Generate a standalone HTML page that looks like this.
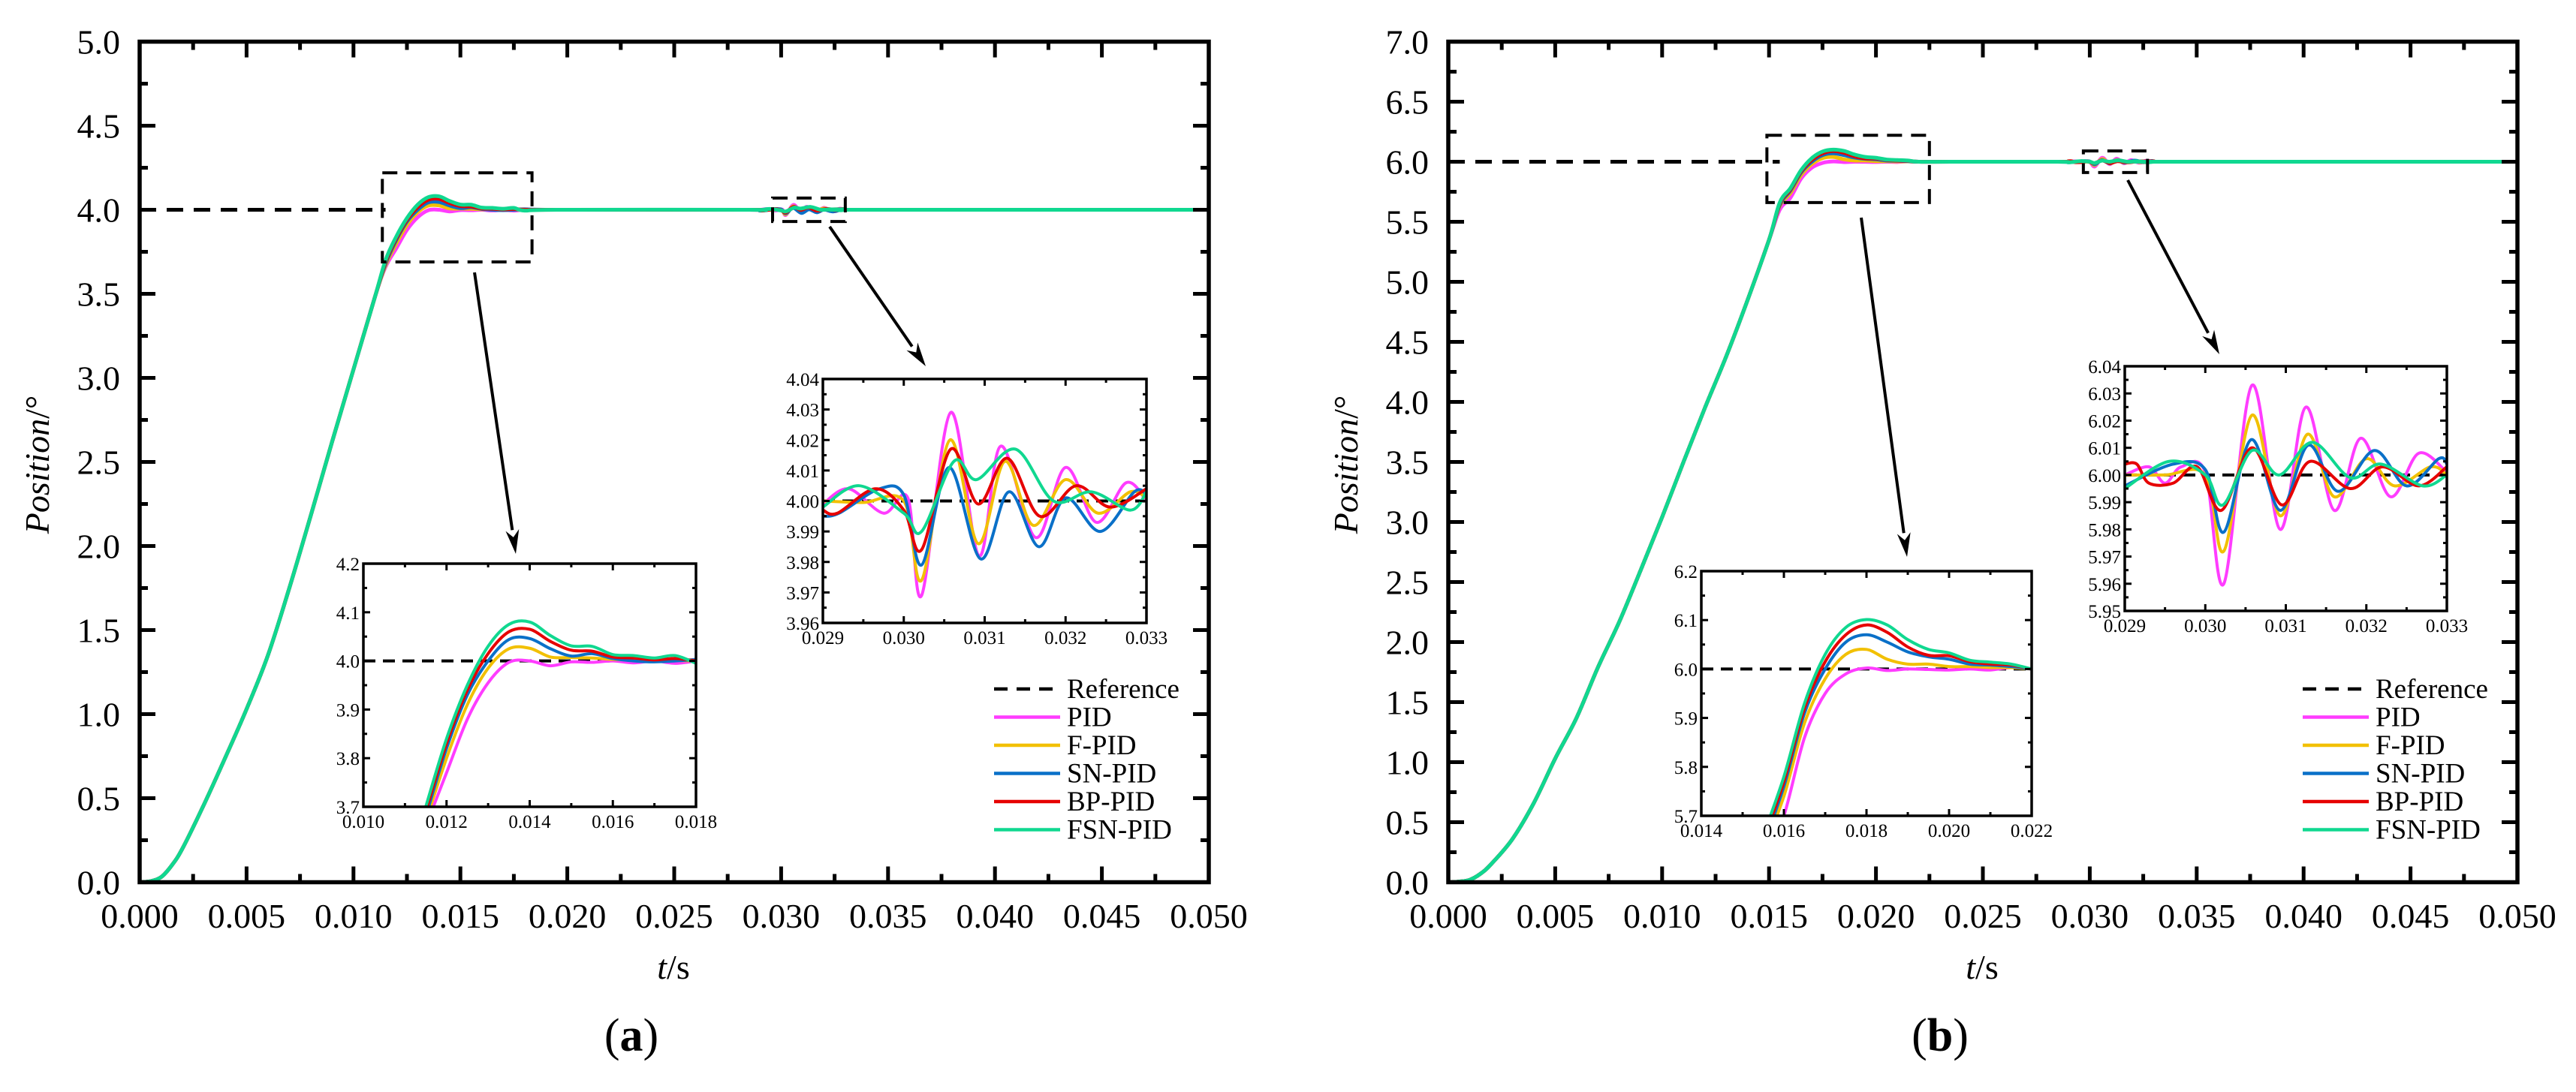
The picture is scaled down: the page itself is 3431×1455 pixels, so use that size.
<!DOCTYPE html>
<html><head><meta charset="utf-8"><title>Position response comparison</title>
<style>
html,body{margin:0;padding:0;background:#fff;}
svg{display:block;font-family:"Liberation Serif",serif;}
</style></head>
<body>
<svg id="fig" xmlns="http://www.w3.org/2000/svg" width="3431" height="1455" viewBox="0 0 3431 1455">
<rect x="0" y="0" width="3431" height="1455" fill="#fff"/>
</svg>
<script>
// ---------- DATA ----------
const seriesNames = ["PID","F-PID","SN-PID","BP-PID","FSN-PID"];
const seriesColors = ["#ff3cff","#f2c000","#0a70c8","#e60000","#10d890"];

// Panel (a) ramp (shared by all controllers)
const rampA_t = [0,0.0005,0.001,0.0015,0.002,0.003,0.004,0.005,0.006,0.007,0.008,0.009,0.010,0.011];
const rampA_v = [0,0.006,0.03,0.1,0.2,0.46,0.74,1.03,1.35,1.75,2.18,2.62,3.05,3.48];
// Panel (a) overshoot region (zoom 1)
const zA_t = [0.0115,0.012,0.0125,0.013,0.0135,0.014,0.0145,0.015,0.0155,0.016,0.0165,0.017,0.0175,0.018];
const zA_pid = [3.66,3.77,3.88,3.955,3.997,4.0,3.99,3.998,3.997,4.0,3.996,4.0,3.995,4.0];
const zA_fpid = [3.67,3.80,3.91,3.985,4.025,4.026,4.008,4.007,4.006,4.003,4.002,4.002,4.001,4.0];
const zA_snpid = [3.68,3.82,3.93,4.0,4.044,4.046,4.025,4.01,4.015,4.005,4.0,3.998,4.0,4.003];
const zA_bppid = [3.69,3.83,3.94,4.015,4.06,4.065,4.04,4.022,4.02,4.008,4.006,4.002,4.005,4.0];
const zA_fsnpid = [3.70,3.84,3.95,4.03,4.075,4.08,4.052,4.031,4.03,4.013,4.011,4.006,4.011,3.995];
// Panel (a) disturbance region (zoom 2)
const dA_pid_t = [0.029,0.02932,0.02975,0.03005,0.03022,0.03058,0.03093,0.0312,0.03163,0.032,0.03238,0.03275,0.033];
const dA_pid_v = [3.999,4.004,3.996,4.001,3.969,4.029,3.982,4.018,3.988,4.011,3.993,4.006,4.0];
const dA_fpid_t = [0.029,0.0295,0.030,0.03022,0.03057,0.03092,0.03125,0.0316,0.032,0.0324,0.0328,0.033];
const dA_fpid_v = [4.0,3.9995,4.0,3.974,4.020,3.986,4.013,3.992,4.007,3.996,4.003,4.001];
const dA_snpid_t = [0.029,0.0292,0.0297,0.030,0.03022,0.03056,0.03095,0.0313,0.03167,0.032,0.03243,0.03285,0.033];
const dA_snpid_v = [3.995,3.996,4.004,4.002,3.979,4.011,3.981,4.003,3.985,4.001,3.990,4.003,4.002];
const dA_bppid_t = [0.029,0.02918,0.02965,0.030,0.03022,0.03058,0.03092,0.03128,0.03168,0.03213,0.03255,0.033];
const dA_bppid_v = [3.997,3.996,4.004,3.997,3.984,4.017,3.999,4.014,3.995,4.005,3.998,4.004];
const dA_fsnpid_t = [0.029,0.02945,0.030,0.03022,0.03062,0.0309,0.03138,0.03185,0.03232,0.0328,0.033];
const dA_fsnpid_v = [3.998,4.005,3.996,3.990,4.013,4.007,4.017,4.000,4.003,3.997,4.003];

// Panel (b) ramp
const rampB_t = [0,0.0005,0.001,0.0015,0.002,0.003,0.004,0.005,0.006,0.007,0.008,0.009,0.010,0.011,0.012,0.013,0.014,0.015];
const rampB_v = [0,0.005,0.02,0.07,0.15,0.36,0.66,1.03,1.37,1.79,2.17,2.6,3.04,3.5,3.95,4.38,4.85,5.35];
// Panel (b) overshoot region
const zB_t = [0.0155,0.016,0.0165,0.017,0.0175,0.018,0.0185,0.019,0.0195,0.020,0.0205,0.021,0.0215,0.022];
const zB_pid = [5.60,5.70,5.86,5.95,5.99,6.002,5.997,6.0,5.999,5.998,6.0,5.998,6.003,6.0];
const zB_fpid = [5.63,5.74,5.89,5.98,6.03,6.04,6.02,6.01,6.01,6.005,6.005,6.003,6.003,6.0];
const zB_snpid = [5.64,5.76,5.91,6.0,6.055,6.07,6.055,6.035,6.025,6.02,6.01,6.008,6.005,6.0];
const zB_bppid = [5.65,5.77,5.92,6.015,6.07,6.09,6.075,6.045,6.028,6.027,6.015,6.01,6.008,6.0];
const zB_fsnpid = [5.66,5.78,5.93,6.03,6.085,6.101,6.09,6.06,6.04,6.033,6.018,6.014,6.01,6.0];
// Panel (b) disturbance region
const dB_pid_t = [0.029,0.0293,0.0295,0.0297,0.030,0.03023,0.03058,0.03093,0.03125,0.0316,0.03193,0.0323,0.03265,0.033];
const dB_pid_v = [6.0,6.003,5.997,6.003,6.001,5.960,6.033,5.980,6.025,5.987,6.0135,5.992,6.008,6.001];
const dB_fpid_t = [0.029,0.0295,0.030,0.03023,0.03058,0.03093,0.03127,0.0316,0.032,0.03235,0.0328,0.033];
const dB_fpid_v = [6.0,6.0,6.0,5.972,6.022,5.985,6.015,5.992,6.006,5.996,6.003,6.0];
const dB_snpid_t = [0.029,0.0296,0.030,0.03023,0.03057,0.03093,0.03128,0.03165,0.0321,0.0325,0.0329,0.033];
const dB_snpid_v = [5.996,6.004,6.002,5.979,6.013,5.987,6.011,5.994,6.009,5.996,6.006,6.004];
const dB_bppid_t = [0.029,0.02915,0.0293,0.0296,0.0299,0.0302,0.03058,0.03095,0.0313,0.0318,0.0322,0.03265,0.033];
const dB_bppid_v = [6.004,6.004,5.997,5.997,6.003,5.987,6.010,5.989,6.005,5.995,6.003,5.996,6.003];
const dB_fsnpid_t = [0.029,0.02955,0.030,0.03022,0.03058,0.03092,0.03133,0.0318,0.03218,0.0327,0.033];
const dB_fsnpid_v = [5.995,6.005,6.0,5.989,6.009,6.0,6.012,5.999,6.004,5.996,6.0];

const mainYTicksA = [0,0.5,1,1.5,2,2.5,3,3.5,4,4.5,5];
const mainYTicksB = [0,0.5,1,1.5,2,2.5,3,3.5,4,4.5,5,5.5,6,6.5,7];
const mainXTicks = [0,0.005,0.010,0.015,0.020,0.025,0.030,0.035,0.040,0.045,0.050];

// ---------- DRAWING ----------
const NS = "http://www.w3.org/2000/svg";
const svg = document.getElementById("fig");
function mk(tag, attrs, parent) {
  const e = document.createElementNS(NS, tag);
  for (const k in attrs) e.setAttribute(k, attrs[k]);
  (parent || svg).appendChild(e);
  return e;
}
function pathFrom(pts) {
  if (pts.length < 2) return "";
  let d = "M" + pts[0][0].toFixed(2) + "," + pts[0][1].toFixed(2);
  for (let i = 0; i < pts.length - 1; i++) {
    const p0 = pts[i - 1] || pts[i], p1 = pts[i], p2 = pts[i + 1], p3 = pts[i + 2] || p2;
    const c1x = p1[0] + (p2[0] - p0[0]) / 6, c1y = p1[1] + (p2[1] - p0[1]) / 6;
    const c2x = p2[0] - (p3[0] - p1[0]) / 6, c2y = p2[1] - (p3[1] - p1[1]) / 6;
    d += "C" + c1x.toFixed(2) + "," + c1y.toFixed(2) + " " + c2x.toFixed(2) + "," + c2y.toFixed(2) + " " + p2[0].toFixed(2) + "," + p2[1].toFixed(2);
  }
  return d;
}
function zip(ts, vs) { return ts.map((t, i) => [t, vs[i]]); }
let clipId = 0;

function axesBox(g, o) {
  const sx = t => o.x0 + (t - o.xmin) / (o.xmax - o.xmin) * (o.x1 - o.x0);
  const sy = v => o.y1 - (v - o.ymin) / (o.ymax - o.ymin) * (o.y1 - o.y0);
  return {sx, sy};
}

function drawTicks(g, o, sx, sy, xt, yt, maj, mnr, sw) {
  const grp = mk("g", {stroke: "#000", "stroke-width": sw}, g);
  
  
  const xs = [], ys = [];
  for (let i = 0; i < xt.length; i++) xs.push([xt[i], maj]);
  for (let i = 0; i < xt.length - 1; i++) xs.push([(xt[i] + xt[i + 1]) / 2, mnr]);
  for (let i = 0; i < yt.length; i++) ys.push([yt[i], maj]);
  for (let i = 0; i < yt.length - 1; i++) ys.push([(yt[i] + yt[i + 1]) / 2, mnr]);
  xs.forEach(([t, L]) => {
    const x = sx(t);
    mk("line", {x1: x, y1: o.y1, x2: x, y2: o.y1 - L}, grp);
    mk("line", {x1: x, y1: o.y0, x2: x, y2: o.y0 + L}, grp);
  });
  ys.forEach(([v, L]) => {
    const y = sy(v);
    mk("line", {x1: o.x0, y1: y, x2: o.x0 + L, y2: y}, grp);
    mk("line", {x1: o.x1, y1: y, x2: o.x1 - L, y2: y}, grp);
  });
}

function drawSeriesSet(g, o, sx, sy, sets, width, refVal) {
  const id = "clip" + (clipId++);
  const cp = mk("clipPath", {id: id}, g);
  mk("rect", {x: o.x0, y: o.y0, width: o.x1 - o.x0, height: o.y1 - o.y0}, cp);
  const plot = mk("g", {"clip-path": "url(#" + id + ")"}, g);
  
  
  const ref = mk("line", {x1: o.refStart !== undefined ? sx(o.refStart) : o.x0, y1: sy(refVal), x2: o.refEnd !== undefined ? sx(o.refEnd) : o.x1, y2: sy(refVal),
    stroke: "#000", "stroke-width": width, "stroke-dasharray": o.dash}, plot);
  
  
  sets.forEach((pts, i) => {
    const p = mk("path", {d: pathFrom(pts.map(q => [sx(q[0]), sy(q[1])])), fill: "none",
      stroke: seriesColors[i], "stroke-width": width, "stroke-linejoin": "round"}, plot);
    
    
  });
}

function fmt(v, d) { return v.toFixed(d); }

function drawInset(o, sets, xt, yt, xd, yd, refVal) {
  const g = mk("g", {});
  
  
  const {sx, sy} = axesBox(g, o);
  mk("rect", {x: o.x0, y: o.y0, width: o.x1 - o.x0, height: o.y1 - o.y0, fill: "#fff"}, g);
  drawSeriesSet(g, o, sx, sy, sets, 4, refVal);
  drawTicks(g, o, sx, sy, xt, yt, 9, 5, 3);
  const fr = mk("rect", {x: o.x0, y: o.y0, width: o.x1 - o.x0, height: o.y1 - o.y0, fill: "none", stroke: "#000", "stroke-width": 3.5}, g);
  
  
  xt.forEach(t => {
    const tx = mk("text", {x: sx(t), y: o.y1 + 28, "font-size": 25, "text-anchor": "middle"}, g);
    tx.textContent = fmt(t, xd);
    
    
  });
  yt.forEach(v => {
    const tx = mk("text", {x: o.x0 - 5, y: sy(v) + 9, "font-size": 25, "text-anchor": "end"}, g);
    tx.textContent = fmt(v, yd);
    
    
  });
}

function seq(a, b, s) { const r = []; for (let v = a; v <= b + s / 1000; v += s) r.push(+v.toFixed(6)); return r; }

function drawPanel(P) {
  const g = mk("g", {});
  
  
  const o = {name: P.name + "-main", x0: P.x0, y0: 55.5, x1: P.x0 + 1424, y1: 1175.5,
    xmin: 0, xmax: 0.05, ymin: 0, ymax: P.ymax, dash: "22,14", refStart: 0, refEnd: P.refEnd};
  const {sx, sy} = axesBox(g, o);
  const mainSets = P.zoom.map((zv, i) => {
    let pts = zip(P.rampT, P.rampV).concat(zip(P.zT, zv));
    pts.push([P.zT[P.zT.length - 1] + 0.0015, P.target]);
    pts.push([0.0285, P.target]);
    pts = pts.concat(zip(P.dist[i][0], P.dist[i][1]));
    pts.push([0.0335, P.target]);
    pts.push([0.05, P.target]);
    return pts;
  });
  drawSeriesSet(g, o, sx, sy, mainSets, 5, P.target);
  drawTicks(g, o, sx, sy, mainXTicks, P.yTicks, 21, 11, 5);
  const fr = mk("rect", {x: o.x0, y: o.y0, width: o.x1 - o.x0, height: o.y1 - o.y0, fill: "none", stroke: "#000", "stroke-width": 5.5}, g);
  
  
  mainXTicks.forEach(t => {
    const tx = mk("text", {x: sx(t), y: 1236, "font-size": 46, "text-anchor": "middle"}, g);
    tx.textContent = fmt(t, 3);
    
    
  });
  P.yTicks.forEach(v => {
    const tx = mk("text", {x: o.x0 - 26, y: sy(v) + 16, "font-size": 46, "text-anchor": "end"}, g);
    tx.textContent = fmt(v, 1);
    
    
  });
  const yt = mk("text", {x: 0, y: 0, "font-size": 46, "text-anchor": "middle", transform: "translate(" + (o.x0 - 121) + ",619) rotate(-90)"}, g);
  yt.innerHTML = '<tspan font-style="italic">Position</tspan>/°';
  
  
  const xtl = mk("text", {x: o.x0 + 711, y: 1304, "font-size": 46, "text-anchor": "middle"}, g);
  xtl.innerHTML = '<tspan font-style="italic">t</tspan>/s';
  
  
  const pl = mk("text", {x: o.x0 + 655, y: 1400, "font-size": 62, "text-anchor": "middle"}, g);
  pl.innerHTML = '(<tspan font-weight="bold">' + P.letter + '</tspan>)';
  
  
  P.boxes.forEach((b, k) => {
    const r = mk("rect", {x: sx(b[0]), y: sy(b[3]), width: sx(b[1]) - sx(b[0]), height: sy(b[2]) - sy(b[3]),
      fill: "none", stroke: "#000", "stroke-width": 4, "stroke-dasharray": "20,12"}, g);
    
    
  });
  P.arrows.forEach((a, k) => {
    const [x1, y1, x2, y2] = a;
    const ang = Math.atan2(y2 - y1, x2 - x1);
    const L = 32, W = 9;
    const bx = x2 - L * Math.cos(ang), by = y2 - L * Math.sin(ang);
    const ln = mk("line", {x1: x1, y1: y1, x2: bx, y2: by, stroke: "#000", "stroke-width": 4}, g);
    
    
    const px = -Math.sin(ang), py = Math.cos(ang);
    const hd = mk("polygon", {points: [x2, y2, bx + px * W, by + py * W, x2 - (L * 0.7) * Math.cos(ang), y2 - (L * 0.7) * Math.sin(ang), bx - px * W, by - py * W].join(","), fill: "#000"}, g);
    
    
  });
  drawInset(Object.assign({name: P.name + "-inset-overshoot", dash: "16,10"}, P.insetA), P.zoom.map(v => zip(P.zT, v)),
    seq(P.insetA.xmin, P.insetA.xmax, 0.002), seq(P.insetA.ymin, P.insetA.ymax, 0.1), 3, 1, P.target);
  drawInset(Object.assign({name: P.name + "-inset-disturbance", dash: "16,10"}, P.insetB), P.dist.map(d => zip(d[0], d[1])),
    seq(P.insetB.xmin, P.insetB.xmax, 0.001), seq(P.insetB.ymin, P.insetB.ymax, 0.01), 3, 2, P.target);
  const lg = mk("g", {}, g);
  
  
  const names = ["Reference"].concat(seriesNames);
  names.forEach((n, i) => {
    const y = 918 + i * 37.5;
    const ent = mk("g", {}, lg);
    
    
    mk("line", {x1: P.legX, y1: y, x2: P.legX + 88, y2: y, stroke: i === 0 ? "#000" : seriesColors[i - 1], "stroke-width": 4.5,
      "stroke-dasharray": i === 0 ? "18,12" : "none"}, ent);
    const tx = mk("text", {x: P.legX + 97, y: y + 12, "font-size": 37}, ent);
    tx.textContent = n;
  });
}

drawPanel({name: "panel-a", letter: "a", x0: 186, ymax: 5, target: 4, yTicks: mainYTicksA, refEnd: 0.0115,
  rampT: rampA_t, rampV: rampA_v, zT: zA_t, zoom: [zA_pid, zA_fpid, zA_snpid, zA_bppid, zA_fsnpid],
  dist: [[dA_pid_t, dA_pid_v], [dA_fpid_t, dA_fpid_v], [dA_snpid_t, dA_snpid_v], [dA_bppid_t, dA_bppid_v], [dA_fsnpid_t, dA_fsnpid_v]],
  boxes: [[0.01135, 0.01835, 3.69, 4.22], [0.0296, 0.033, 3.93, 4.07]],
  arrows: [[632, 363, 687, 738], [1105, 302, 1233, 488]],
  insetA: {x0: 484, y0: 751, x1: 927, y1: 1075, xmin: 0.010, xmax: 0.018, ymin: 3.7, ymax: 4.2},
  insetB: {x0: 1096, y0: 505, x1: 1527, y1: 830, xmin: 0.029, xmax: 0.033, ymin: 3.96, ymax: 4.04},
  legX: 1324});

drawPanel({name: "panel-b", letter: "b", x0: 1929, ymax: 7, target: 6, yTicks: mainYTicksB, refEnd: 0.0155,
  rampT: rampB_t, rampV: rampB_v, zT: zB_t, zoom: [zB_pid, zB_fpid, zB_snpid, zB_bppid, zB_fsnpid],
  dist: [[dB_pid_t, dB_pid_v], [dB_fpid_t, dB_fpid_v], [dB_snpid_t, dB_snpid_v], [dB_bppid_t, dB_bppid_v], [dB_fsnpid_t, dB_fsnpid_v]],
  boxes: [[0.0149, 0.0225, 5.66, 6.22], [0.0297, 0.0327, 5.91, 6.09]],
  arrows: [[2479, 290, 2540, 742], [2834, 240, 2956, 472]],
  insetA: {x0: 2266, y0: 761, x1: 2706, y1: 1087, xmin: 0.014, xmax: 0.022, ymin: 5.7, ymax: 6.2},
  insetB: {x0: 2830, y0: 488, x1: 3259, y1: 814, xmin: 0.029, xmax: 0.033, ymin: 5.95, ymax: 6.04},
  legX: 3067});
</script>
</body></html>
